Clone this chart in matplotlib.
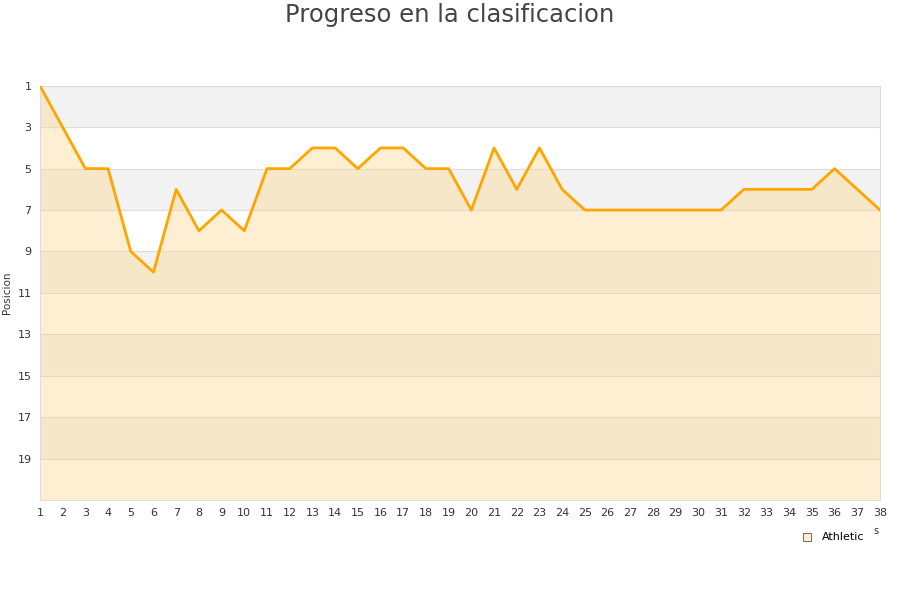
import matplotlib
matplotlib.use('Agg')
import matplotlib.pyplot as plt
import numpy as np

# ── data ──────────────────────────────────────────────────────────────────────
jornadas = list(range(1, 39))
posicion = [1, 3, 5, 5, 9, 10, 6, 8, 7, 8,
            5, 5, 4, 4, 5, 4, 4, 5, 5, 7,
            4, 6, 4, 6, 7, 7, 7, 7, 7, 7,
            7, 6, 6, 6, 6, 5, 6, 7]
y_ticks = list(range(1, 20, 2))
team = 'Athletic'

fig = plt.figure(figsize=(9, 6), dpi=100)
ax = fig.add_axes([0.0444, 0.1667, 0.9334, 0.6903])

# alternating bands
for lo in range(1, 21, 4):
    ax.axhspan(lo, lo + 2, color='#f2f2f2', zorder=0, lw=0)
for v in range(1, 22, 2):
    ax.axhline(v, color='#dddddd', lw=0.8, zorder=1)

ax.fill_between(jornadas, posicion, 21, color='#ffd37f', alpha=0.35,
                lw=0, zorder=2)
ax.plot(jornadas, posicion, color='#ffa500', lw=2.0, zorder=3,
        solid_joinstyle='round')

ax.set_xlim(1, 38)
ax.set_ylim(21, 1)
ax.set_xticks(jornadas)
ax.set_yticks(y_ticks)
ax.tick_params(axis='both', length=0, labelsize=8, colors='#333333', pad=6)
for s in ax.spines.values():
    s.set_color('#dddddd')
    s.set_linewidth(0.8)

ax.set_ylabel('Posicion', fontsize=7.5, color='#333333', labelpad=4)
fig.suptitle('Progreso en la clasificacion', fontsize=17.5, color='#444444',
             y=0.995)

ax.scatter([], [], marker='s', s=30, facecolor='#ffedcc', edgecolor='#555555',
           linewidths=0.6, label=team)
ax.legend(loc='upper right', bbox_to_anchor=(0.993, -0.053), frameon=False,
          fontsize=8, handletextpad=0.3, markerscale=1)
fig.text(0.971, 0.11, 's', fontsize=7, color='#333333')

fig.savefig('out.png', dpi=100)
